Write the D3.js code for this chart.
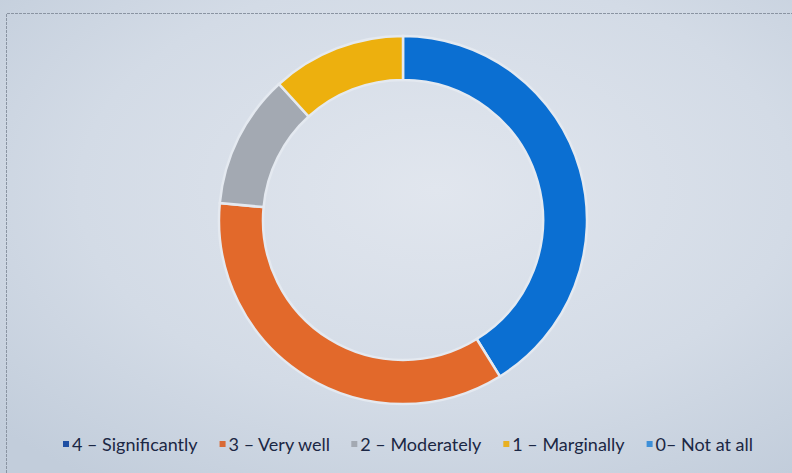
<!DOCTYPE html>
<html>
<head>
<meta charset="utf-8">
<script src="https://cdn.jsdelivr.net/npm/d3@7"></script>
<style>
  body { margin: 0; background: #d3dce7; }
  svg { display: block; }
</style>
</head>
<body>
<svg width="792" height="473"></svg>
<script>
var svg = d3.select("svg");
var width = +svg.attr("width");
var height = +svg.attr("height");

var labels = ["4 \u2013 Significantly", "3 \u2013 Very well", "2 \u2013 Moderately", "1 \u2013 Marginally", "0\u2013 Not at all"];
var counts = [7, 6, 2, 2, 0];
var sliceColors = ["#0b6fd2", "#e2692b", "#a3a9b2", "#edb00e", "#3d8fd8"];
var legendColors = ["#1f4fa3", "#d96a35", "#a3a9b2", "#e8b022", "#3d8fd8"];

var cx = 403, cy = 220;
var outerR = 184, innerR = 140;

// photo-like background, lighter in the middle
var defs = svg.append("defs");
var grad = defs.append("radialGradient").attr("id", "bg")
    .attr("cx", "55%").attr("cy", "40%").attr("r", "75%");
grad.append("stop").attr("offset", "0%").attr("stop-color", "#e1e6ee");
grad.append("stop").attr("offset", "60%").attr("stop-color", "#d3dbe6");
grad.append("stop").attr("offset", "100%").attr("stop-color", "#c2cddb");

svg.append("rect").attr("width", width).attr("height", height).attr("fill", "url(#bg)");

// frame of the slide
svg.append("path")
    .attr("d", "M6.5," + height + "V13.5H" + width)
    .attr("fill", "none")
    .attr("stroke", "#8a94a2")
    .attr("stroke-width", 1)
    .attr("stroke-dasharray", "3,1");

var data = labels.map(function (d, i) { return { label: d, value: counts[i], i: i }; });

var pie = d3.pie().sort(null).value(function (d) { return d.value; });
var arc = d3.arc().innerRadius(innerR).outerRadius(outerR);

svg.append("g")
    .attr("transform", "translate(" + cx + "," + cy + ")")
    .selectAll("path")
    .data(pie(data).filter(function (d) { return d.data.value > 0; }))
    .enter()
    .append("path")
    .attr("d", arc)
    .attr("fill", function (d) { return sliceColors[d.data.i]; })
    .attr("stroke", "#e4e9f0")
    .attr("stroke-width", 2.5);

// legend, spread over the same span as the original
var legend = svg.append("g").attr("font-family", "Lato, 'Open Sans', sans-serif")
    .attr("font-size", 18).attr("fill", "#1b2744");

var items = legend.selectAll("g").data(data).enter().append("g");
items.append("rect")
    .attr("width", 6).attr("height", 6)
    .attr("y", -10)
    .attr("fill", function (d) { return legendColors[d.i]; });
items.append("text").attr("x", 9).text(function (d) { return d.label; });

var widths = [];
items.each(function () { widths.push(this.getBBox().width); });
var span = 690;
var gap = (span - d3.sum(widths)) / (widths.length - 1);
var xs = [], acc = 63;
widths.forEach(function (w) { xs.push(acc); acc += w + gap; });
items.attr("transform", function (d, i) { return "translate(" + xs[i] + ",451)"; });
</script>
</body>
</html>
